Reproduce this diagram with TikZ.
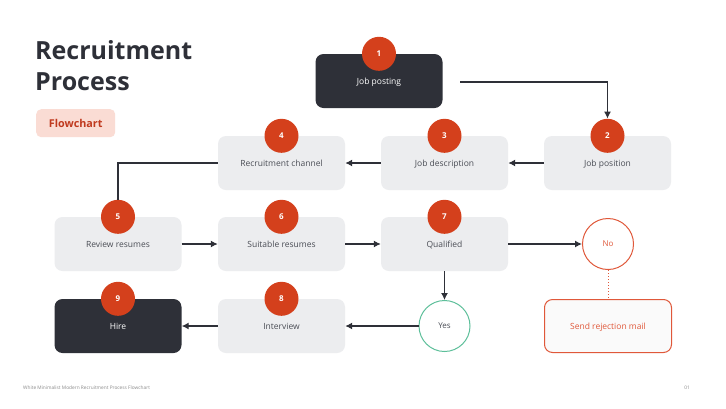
\documentclass[tikz,border=0pt]{standalone}
\usepackage{fontspec}
\setmainfont{Open Sans}
\usetikzlibrary{arrows.meta}
\definecolor{darkbox}{HTML}{2E3038}
\definecolor{lightbox}{HTML}{ECEDEF}
\definecolor{badge}{HTML}{D4401C}
\definecolor{redline}{HTML}{E0583A}
\definecolor{greenline}{HTML}{5DBF9A}
\definecolor{boxtext}{HTML}{4A4D55}
\definecolor{tagfill}{HTML}{FADCD4}
\definecolor{tagtext}{HTML}{C0391E}
\definecolor{foot}{HTML}{8A8A8A}
\tikzset{
  stepbox/.style={rounded corners=8pt, minimum width=127pt, minimum height=54pt, inner sep=0pt, text height=6.5pt, text depth=0.5pt, font=\fontsize{8.5}{10}\selectfont},
  lightstep/.style={stepbox, fill=lightbox, text=boxtext},
  darkstep/.style={stepbox, fill=darkbox, text=white},
  numbadge/.style={circle, fill=badge, minimum size=34pt, inner sep=0pt, text=white, font=\fontsize{8}{9}\selectfont\bfseries},
  conn/.style={draw=darkbox, line width=1.2pt},
  arr/.style={conn, -{Latex[length=7pt,width=7pt]}},
}
\begin{document}
\begin{tikzpicture}[x=1pt,y=-1pt]
\path[fill=white] (0,0) rectangle (726,408);
\useasboundingbox (0,0) rectangle (726,408);
% title
\node[anchor=north west, inner sep=0pt, text=darkbox, align=left, font=\fontsize{25}{31}\selectfont\bfseries] (title) at (35,40) {Recruitment\\Process};
\node[anchor=north west, minimum width=79pt, minimum height=28pt, inner sep=0pt, rounded corners=5pt, fill=tagfill, text=tagtext, font=\fontsize{10.8}{12}\selectfont\bfseries] (tag) at (36,109) {Flowchart};
% boxes
\node[darkstep] (b1) at (379,81) {Job posting};
\node[lightstep] (b2) at (607.5,163) {Job position};
\node[lightstep] (b3) at (444.5,163) {Job description};
\node[lightstep] (b4) at (281.5,163) {Recruitment channel};
\node[lightstep] (b5) at (118,244) {Review resumes};
\node[lightstep] (b6) at (281.5,244) {Suitable resumes};
\node[lightstep] (b7) at (444.5,244) {Qualified};
\node[lightstep] (b8) at (281.5,326) {Interview};
\node[darkstep] (b9) at (118,326) {Hire};
\node[circle, draw=redline, line width=1pt, fill=white, minimum size=51pt, inner sep=0pt, text=redline, font=\fontsize{8}{9}\selectfont] (no) at (608,244) {No};
\node[circle, draw=greenline, line width=1pt, fill=white, minimum size=51pt, inner sep=0pt, text=boxtext, font=\fontsize{8}{9}\selectfont] (yes) at (444.5,326) {Yes};
\node[stepbox, draw=redline, line width=1pt, fill=white!98!black, text=redline, minimum width=127pt, minimum height=53pt] (rej) at (608,326) {Send rejection mail};
% badges
\node[numbadge] (n1) at (b1.north) {1};
\node[numbadge] (n2) at (b2.north) {2};
\node[numbadge] (n3) at (b3.north) {3};
\node[numbadge] (n4) at (b4.north) {4};
\node[numbadge] (n5) at (b5.north) {5};
\node[numbadge] (n6) at (b6.north) {6};
\node[numbadge] (n7) at (b7.north) {7};
\node[numbadge] (n8) at (b8.north) {8};
\node[numbadge] (n9) at (b9.north) {9};
% connectors
\coordinate (s1) at (460,82);
\draw[arr] (s1) -| (n2.north);
\draw[arr] (b2.west) -- (b3.east);
\draw[arr] (b3.west) -- (b4.east);
\draw[conn] (b4.west) -| (n5.north);
\draw[arr] (b5.east) -- (b6.west);
\draw[arr] (b6.east) -- (b7.west);
\draw[arr] (b7.east) -- (no.west);
\draw[arr] (b7.south) -- (yes.north);
\draw[redline, line width=1pt, dotted] (no.south) -- (rej.north);
\draw[arr] (yes.west) -- (b8.east);
\draw[arr] (b8.west) -- (b9.east);
% footer
\node[anchor=west, inner sep=0pt, text=foot, font=\fontsize{4.8}{6}\selectfont] (foot) at (23,388) {White Minimalist Modern Recruitment Process Flowchart};
\node[anchor=east, inner sep=0pt, text=foot, font=\fontsize{4.8}{6}\selectfont] (page) at (690,388) {01};
\end{tikzpicture}
\end{document}
